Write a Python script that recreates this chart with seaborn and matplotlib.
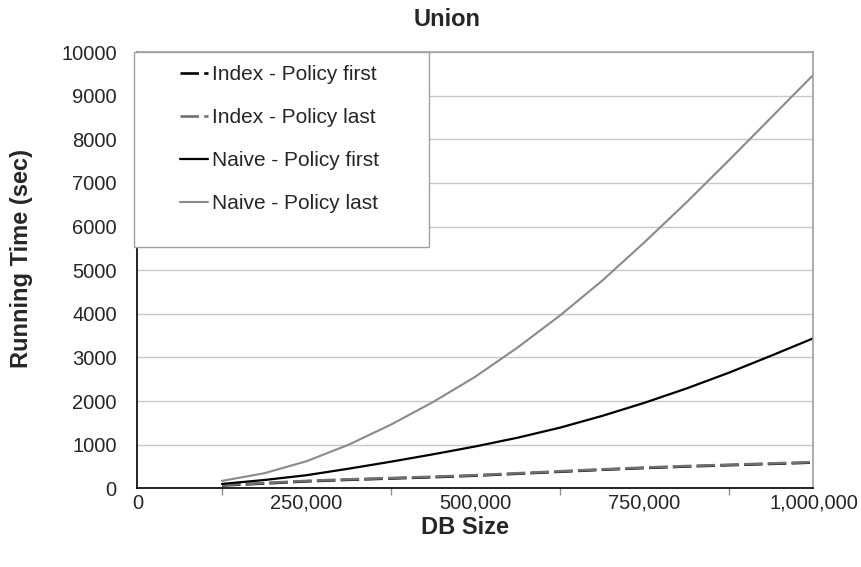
import matplotlib
matplotlib.use("Agg")
import matplotlib.pyplot as plt
from matplotlib.patches import Rectangle
from matplotlib.ticker import FuncFormatter, MultipleLocator
import pandas as pd
import seaborn as sns

# Database sizes (number of records)
db_size = [125000, 187500, 250000, 312500, 375000, 437500, 500000, 562500,
           625000, 687500, 750000, 812500, 875000, 937500, 1000000]

# Running times in seconds
index_policy_first = [65, 110, 160, 195, 225, 255, 290, 335, 380, 425, 465,
                      500, 530, 560, 590]
index_policy_last = [75, 120, 170, 205, 235, 265, 300, 345, 390, 435, 475,
                     510, 540, 570, 600]
naive_policy_first = [100, 190, 300, 450, 610, 780, 960, 1160, 1390, 1660,
                      1960, 2290, 2650, 3040, 3440]
naive_policy_last = [170, 345, 620, 1000, 1460, 1980, 2560, 3230, 3960, 4760,
                     5640, 6560, 7520, 8500, 9480]

series_names = ["Index - Policy first", "Index - Policy last",
                "Naive - Policy first", "Naive - Policy last"]
y_ticks = [0, 1000, 2000, 3000, 4000, 5000, 6000, 7000, 8000, 9000, 10000]
x_ticks = [0, 250000, 500000, 750000, 1000000]

sns.set_style("white")
plt.rcParams["font.family"] = ["Liberation Sans", "DejaVu Sans"]

df = pd.concat([
    pd.DataFrame({"DB Size": db_size, "Running Time": vals, "Series": name})
    for name, vals in zip(series_names,
                          [index_policy_first, index_policy_last,
                           naive_policy_first, naive_policy_last])
], ignore_index=True)

palette = {
    "Index - Policy first": "#000000",
    "Index - Policy last": "#707070",
    "Naive - Policy first": "#000000",
    "Naive - Policy last": "#8a8a8a",
}
dashes = {
    "Index - Policy first": (7, 2),
    "Index - Policy last": (7, 2),
    "Naive - Policy first": "",
    "Naive - Policy last": "",
}
sizes = {
    "Index - Policy first": 1.9,
    "Index - Policy last": 1.9,
    "Naive - Policy first": 1.6,
    "Naive - Policy last": 1.5,
}

fig = plt.figure(figsize=(8.62, 5.67), dpi=100)
ax = fig.add_axes([137.5 / 862, 1 - 488.3 / 567, 676 / 862, 436.3 / 567])

sns.lineplot(data=df, x="DB Size", y="Running Time", hue="Series",
             style="Series", size="Series", palette=palette, dashes=dashes,
             sizes=sizes, hue_order=series_names, style_order=series_names,
             size_order=series_names, ax=ax, legend=False, zorder=2)

ax.set_xlim(0, 1000000)
ax.set_ylim(0, 10000)
ax.set_xticks(x_ticks)
ax.xaxis.set_minor_locator(MultipleLocator(125000))
ax.set_yticks(y_ticks)
ax.xaxis.set_major_formatter(FuncFormatter(lambda v, p: f"{int(v):,}"))
ax.yaxis.set_major_formatter(FuncFormatter(lambda v, p: f"{int(v)}"))
ax.tick_params(axis="x", which="both", direction="out", length=5,
               color="#909090", width=1, labelsize=14.5, pad=-1)
ax.tick_params(axis="y", which="major", direction="out", length=3,
               color="#909090", width=1, labelsize=14.5, pad=12)
ax.tick_params(which="minor", bottom=True)
ax.set_xlabel("")
ax.set_ylabel("")

ax.grid(axis="y", color="#c8c8c8", linewidth=1)
ax.set_axisbelow(True)
for side in ("left", "bottom"):
    ax.spines[side].set_color("#000000")
    ax.spines[side].set_linewidth(1.2)
for side in ("top", "right"):
    ax.spines[side].set_color("#a0a0a0")
    ax.spines[side].set_linewidth(1.2)

# Legend box in the upper-left corner of the plot
ax.add_patch(Rectangle((-0.005, 0.554), 0.436, 0.446, transform=ax.transAxes,
                       facecolor="white", edgecolor="#a0a0a0", linewidth=1,
                       clip_on=False, zorder=3))
handles = ax.get_lines()[:4]
leg = ax.legend(handles, series_names, loc="upper left",
                bbox_to_anchor=(0.0629, 0.970), frameon=False, borderpad=0,
                borderaxespad=0, fontsize=15, handlelength=1.35,
                handletextpad=0.18, labelspacing=1.15)
leg.set_zorder(5)

fig.text(447 / 862, 1 - 20 / 567, "Union", ha="center", va="center",
         fontsize=17, fontweight="bold")
fig.text(465 / 862, 1 - 527 / 567, "DB Size", ha="center", va="center",
         fontsize=17, fontweight="bold")
fig.text(22 / 862, 1 - 259 / 567, "Running Time (sec)", ha="center",
         va="center", rotation=90, fontsize=17, fontweight="bold")

fig.savefig("out.png", dpi=100)
